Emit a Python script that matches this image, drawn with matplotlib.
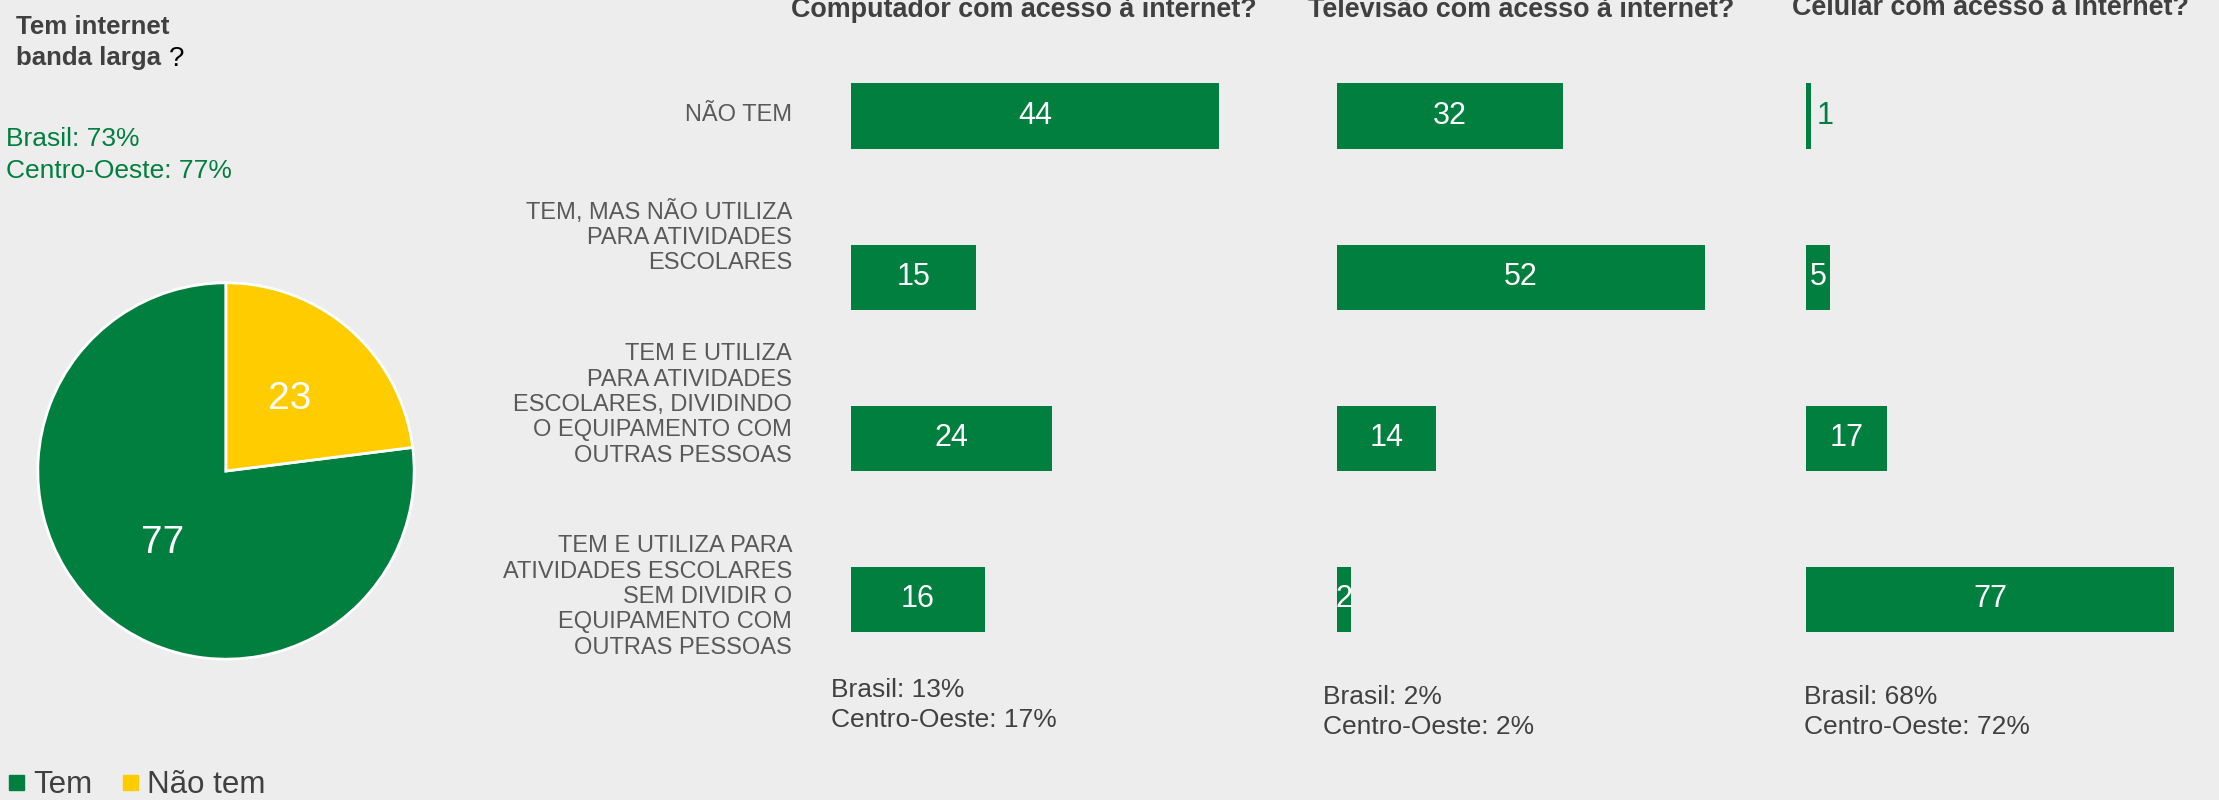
import matplotlib.pyplot as plt
from matplotlib.lines import Line2D

# data
pie_labels = ['Tem', 'Não tem']
pie_values = [77, 23]

categorias = ['NÃO TEM',
              'TEM, MAS NÃO UTILIZA\nPARA ATIVIDADES\nESCOLARES',
              'TEM E UTILIZA\nPARA ATIVIDADES\nESCOLARES, DIVIDINDO\nO EQUIPAMENTO COM\nOUTRAS PESSOAS',
              'TEM E UTILIZA PARA\nATIVIDADES ESCOLARES\nSEM DIVIDIR O\nEQUIPAMENTO COM\nOUTRAS PESSOAS']
titulos = ['Computador com acesso à internet?',
           'Televisão com acesso à internet?',
           'Celular com acesso à internet?']
computador = [44, 15, 24, 16]
televisao = [32, 52, 14, 2]
celular = [1, 5, 17, 77]
notas = ['Brasil: 13%\nCentro-Oeste: 17%',
         'Brasil: 2%\nCentro-Oeste: 2%',
         'Brasil: 68%\nCentro-Oeste: 72%']

GREEN = '#007F3E'
YELLOW = '#FFCC00'
BG = '#EDEDED'
DARK = '#404040'
GRAY = '#595959'

plt.rcParams['font.family'] = ['Liberation Sans', 'DejaVu Sans']

W, H = 2219, 800
fig = plt.figure(figsize=(W / 100, H / 100), dpi=100)
fig.patch.set_facecolor(BG)

# pie
pax = fig.add_axes([19 / W, 122 / H, 414 / W, 414 / H])
pax.pie(pie_values, colors=[GREEN, YELLOW], startangle=90, counterclock=True,
        autopct=lambda p: '%.0f' % p, pctdistance=0.51,
        wedgeprops=dict(edgecolor='white', linewidth=2),
        textprops=dict(color='white', fontsize=28))
pax.set_xlim(-1.1, 1.1)
pax.set_ylim(-1.1, 1.1)

fig.text(16 / W, 1 - 34 / H, 'Tem internet', fontsize=18.6, fontweight='bold',
         color=DARK, va='baseline', ha='left')
fig.text(16 / W, 1 - 65 / H, 'banda larga', fontsize=18.6, fontweight='bold',
         color=DARK, va='baseline', ha='left')
fig.text(169 / W, 1 - 66 / H, '?', fontsize=20, color='black', va='baseline', ha='left')
fig.text(6 / W, 1 - 139 / H, 'Brasil: 73%', fontsize=19, color=GREEN, va='center', ha='left')
fig.text(6 / W, 1 - 171 / H, 'Centro-Oeste: 77%', fontsize=19, color=GREEN, va='center', ha='left')

handles = [Line2D([], [], marker='s', ls='', color=c, markersize=10.8) for c in [GREEN, YELLOW]]
fig.legend(handles, pie_labels, loc='lower left', bbox_to_anchor=(7 / W, 0.0), ncol=2,
           frameon=False, fontsize=22.5, handlelength=0.6, handletextpad=0.25,
           columnspacing=0.9, borderpad=0, borderaxespad=0, labelcolor=DARK)

# category labels
cat_y = [115, 237, 405, 597]
for lab, y in zip(categorias, cat_y):
    fig.text(792 / W, 1 - y / H, lab, fontsize=17, color=GRAY, ha='right', va='center',
             linespacing=1.2)

# bar panels
lefts = [851, 1337, 1806]
pads = [13, 13, 15]
title_shift = [-11, 0, 0]
series = [computador, televisao, celular]
note_x = [831, 1323, 1804]
note_y = [705, 712, 712]
for left, titulo, vals, nota, pad, ts, nx, ny in zip(lefts, titulos, series, notas, pads,
                                                    title_shift, note_x, note_y):
    ax = fig.add_axes([left / W, 1 - 680 / H, 368 / W, 644.5 / H])
    ax.set_facecolor('none')
    pos = range(len(vals))
    ax.barh(pos, vals, height=0.405, color=GREEN)
    ax.set_xlim(0, max(vals))
    ax.set_ylim(3.5, -0.5)
    ax.axis('off')
    for i, v in zip(pos, vals):
        if v < 2:
            ax.annotate(str(v), (v, i), xytext=(4, 0), textcoords='offset points',
                        color=GREEN, fontsize=22, ha='left', va='center')
        else:
            ax.text(v / 2, i, str(v), color='white', fontsize=22, ha='center', va='center')
    t = ax.set_title(titulo, fontsize=19.4, fontweight='bold', color=DARK, pad=pad)
    t.set_x(0.5 + ts / 368)
    fig.text(nx / W, 1 - ny / H, nota, fontsize=19, color=DARK, ha='left',
             va='center', linespacing=1.28)

fig.savefig('out.png', dpi=100, facecolor=BG)
